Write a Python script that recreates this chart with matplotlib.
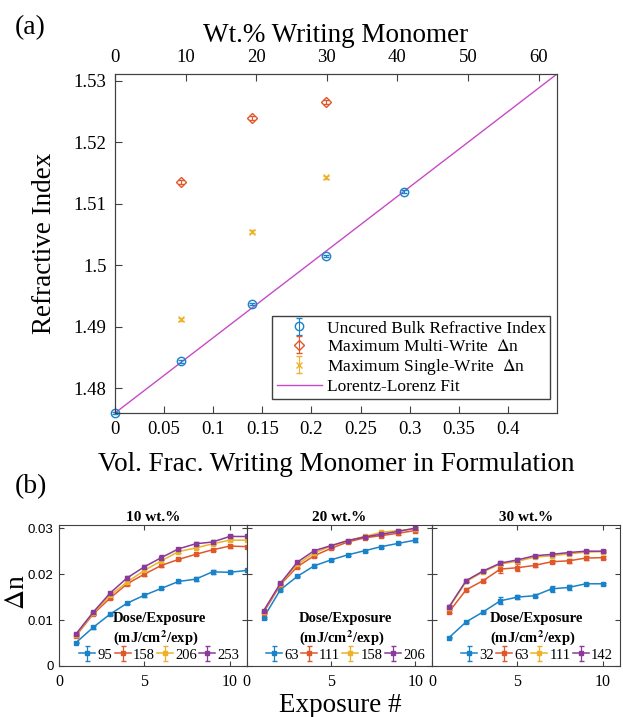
import numpy as np
import matplotlib.pyplot as plt
from matplotlib.ticker import FuncFormatter

plt.rcParams['font.family'] = ['Liberation Serif', 'DejaVu Serif']
plt.rcParams['mathtext.fontset'] = 'stix'

# ---- (a) refractive index vs. writing monomer content ----
vol_frac = [0.0, 0.0671, 0.139, 0.2153, 0.2942]
n_uncured = [1.4760, 1.4844, 1.4937, 1.5015, 1.5120]
n_uncured_err = [0.0002, 0.0002, 0.0002, 0.0002, 0.0002]
vol_frac_written = [0.0671, 0.139, 0.2153]
n_multi = [1.5135, 1.5239, 1.5265]
n_multi_err = [0.0003, 0.0003, 0.0003]
n_single = [1.4912, 1.5055, 1.5143]
n_single_err = [0.0002, 0.0002, 0.0002]
ll_frac = [0.0, 0.45]
ll_n = [1.4760, 1.5311]

# ---- (b) delta n vs exposure number ----
titles = ['10 wt.%', '20 wt.%', '30 wt.%']
doses = [['95', '158', '206', '253'],
         ['63', '111', '158', '206'],
         ['32', '63', '111', '142']]
exp_10 = [1, 2, 3, 4, 5, 6, 7, 8, 9, 10, 11]
exp_20 = [1, 2, 3, 4, 5, 6, 7, 8, 9, 10]
exp_30 = [1, 2, 3, 4, 5, 6, 7, 8, 9, 10]

dn_10 = [[0.0051, 0.0084, 0.0113, 0.0137, 0.0154, 0.0169, 0.0184, 0.0189, 0.0205, 0.0204, 0.0208],
         [0.0066, 0.0113, 0.0148, 0.0179, 0.0200, 0.0219, 0.0232, 0.0243, 0.0253, 0.0261, 0.0260],
         [0.0068, 0.0115, 0.0154, 0.0183, 0.0208, 0.0229, 0.0249, 0.0257, 0.0266, 0.0274, 0.0274],
         [0.0070, 0.0117, 0.0159, 0.0192, 0.0216, 0.0236, 0.0255, 0.0266, 0.0270, 0.0282, 0.0282]]
err_10 = [[0.0002, 0.0003, 0.0003, 0.0003, 0.0003, 0.0002, 0.0003, 0.0004, 0.0004, 0.0002, 0.0004],
          [0.0002, 0.0003, 0.0003, 0.0003, 0.0004, 0.0003, 0.0002, 0.0002, 0.0002, 0.0003, 0.0002],
          [0.0002, 0.0003, 0.0003, 0.0003, 0.0003, 0.0004, 0.0003, 0.0003, 0.0003, 0.0002, 0.0002],
          [0.0002, 0.0003, 0.0003, 0.0003, 0.0003, 0.0005, 0.0003, 0.0003, 0.0004, 0.0003, 0.0003]]

dn_20 = [[0.0105, 0.0166, 0.0195, 0.0218, 0.0231, 0.0242, 0.0251, 0.0260, 0.0267, 0.0274],
         [0.0116, 0.0177, 0.0216, 0.0240, 0.0256, 0.0270, 0.0279, 0.0284, 0.0289, 0.0295],
         [0.0118, 0.0179, 0.0221, 0.0246, 0.0261, 0.0273, 0.0282, 0.0291, 0.0295, 0.0299],
         [0.0120, 0.0180, 0.0226, 0.0251, 0.0262, 0.0273, 0.0281, 0.0287, 0.0293, 0.0300]]
err_20 = [[0.0002, 0.0002, 0.0002, 0.0003, 0.0003, 0.0002, 0.0002, 0.0002, 0.0002, 0.0004],
          [0.0002, 0.0002, 0.0003, 0.0002, 0.0002, 0.0002, 0.0002, 0.0003, 0.0003, 0.0003],
          [0.0002, 0.0002, 0.0002, 0.0002, 0.0002, 0.0002, 0.0002, 0.0002, 0.0002, 0.0002],
          [0.0002, 0.0002, 0.0002, 0.0002, 0.0002, 0.0002, 0.0002, 0.0002, 0.0002, 0.0003]]

dn_30 = [[0.0062, 0.0096, 0.0118, 0.0142, 0.0150, 0.0153, 0.0168, 0.0171, 0.0179, 0.0179],
         [0.0118, 0.0166, 0.0186, 0.0211, 0.0214, 0.0219, 0.0227, 0.0229, 0.0235, 0.0236],
         [0.0127, 0.0184, 0.0205, 0.0222, 0.0228, 0.0237, 0.0240, 0.0244, 0.0248, 0.0249],
         [0.0129, 0.0186, 0.0207, 0.0224, 0.0231, 0.0240, 0.0243, 0.0247, 0.0250, 0.0250]]
err_30 = [[0.0002, 0.0002, 0.0002, 0.0008, 0.0005, 0.0003, 0.0007, 0.0005, 0.0002, 0.0002],
          [0.0003, 0.0003, 0.0003, 0.0008, 0.0007, 0.0004, 0.0003, 0.0004, 0.0004, 0.0004],
          [0.0002, 0.0002, 0.0002, 0.0003, 0.0003, 0.0002, 0.0002, 0.0002, 0.0002, 0.0002],
          [0.0003, 0.0003, 0.0003, 0.0004, 0.0004, 0.0002, 0.0002, 0.0002, 0.0002, 0.0002]]

blue = '#1a82c8'
orange = '#e0582a'
yellow = '#edb22a'
purple = '#8a3a98'
magenta = '#c84ac8'
colors = [blue, orange, yellow, purple]
spine_c = '#404040'

W, H = 623, 717
fig = plt.figure(figsize=(W / 100, H / 100), dpi=100)

g = FuncFormatter(lambda v, p: '%g' % round(v, 4))

# ---------------- panel (a) ----------------
ax = fig.add_axes([115 / W, 1 - 413 / H, (557 - 115) / W, (413 - 74) / H])
h1 = ax.errorbar(vol_frac, n_uncured, yerr=n_uncured_err, fmt='o', mfc='none',
                 mec=blue, ecolor=blue, ms=6, mew=1, capsize=2.5, elinewidth=0.8,
                 clip_on=False, zorder=3, label='Uncured Bulk Refractive Index')
h2 = ax.errorbar(vol_frac_written, n_multi, yerr=n_multi_err, fmt='D', mfc='none',
                 mec=orange, ecolor=orange, ms=5, mew=1, capsize=2.5, elinewidth=0.8,
                 zorder=3, label=r'Maximum Multi-Write  $\Delta$n')
h3 = ax.errorbar(vol_frac_written, n_single, yerr=n_single_err, fmt='x',
                 mec=yellow, ecolor=yellow, ms=5, mew=1, capsize=2.5, elinewidth=0.8,
                 zorder=3, label=r'Maximum Single-Write  $\Delta$n')
h4, = ax.plot(ll_frac, ll_n, color=magenta, lw=1, label='Lorentz-Lorenz Fit', zorder=2)

ax.set_xlim(0, 0.45)
ax.set_ylim(1.476, 1.5311)
ax.set_xticks(np.arange(0, 0.401, 0.05))
ax.set_yticks([1.48, 1.49, 1.50, 1.51, 1.52, 1.53])
ax.xaxis.set_major_formatter(g)
ax.yaxis.set_major_formatter(g)
ax.tick_params(direction='in', labelsize=13.5, color=spine_c, length=5, pad=6)
for s in ax.spines.values():
    s.set_color(spine_c)
ax.set_ylabel('Refractive Index', fontsize=19.5, labelpad=12)
ax.set_xlabel('Vol. Frac. Writing Monomer in Formulation', fontsize=19.5, labelpad=10)

leg = ax.legend(handles=[h1, h2, h3, h4], loc='lower right', bbox_to_anchor=(0.985, 0.04),
                fontsize=12.5, frameon=True, fancybox=False, edgecolor=spine_c,
                framealpha=1, handlelength=2.6, handletextpad=0.3, labelspacing=0.12,
                borderpad=0.25, borderaxespad=0)
leg.get_frame().set_linewidth(1)

axt = ax.twiny()
axt.set_xlim(0, 62.6)
axt.set_xticks([0, 10, 20, 30, 40, 50, 60])
axt.tick_params(direction='in', labelsize=13.5, color=spine_c, length=5, pad=6)
axt.set_xlabel('Wt.% Writing Monomer', fontsize=19.5, labelpad=5)
for s in axt.spines.values():
    s.set_color(spine_c)

fig.text(15 / W, 1 - 28 / H, '(a)', fontsize=20, va='center', ha='left')
fig.text(15 / W, 1 - 487 / H, '(b)', fontsize=20, va='center', ha='left')

# ---------------- panel (b) ----------------
edges = [59, 246.7, 432, 620]
exps = [exp_10, exp_20, exp_30]
dns = [dn_10, dn_20, dn_30]
errs = [err_10, err_20, err_30]
for i in range(3):
    bx = fig.add_axes([edges[i] / W, 1 - 666 / H, (edges[i + 1] - edges[i]) / W, (666 - 525) / H])
    handles = []
    for k in range(4):
        h = bx.errorbar(exps[i], dns[i][k], yerr=errs[i][k], color=colors[k],
                        marker='s', ms=2.2, lw=1.1, elinewidth=0.9, capsize=1.8,
                        label=doses[i][k])
        handles.append(h)
    bx.set_xlim(0, 11)
    bx.set_ylim(0, 0.0307)
    bx.set_xticks([0, 5, 10])
    bx.set_yticks([0, 0.01, 0.02, 0.03])
    bx.yaxis.set_major_formatter(g)
    bx.tick_params(direction='in', top=True, right=True, color=spine_c, length=3.5)
    bx.tick_params(axis='x', labelsize=11.5, pad=6)
    if i == 0:
        bx.tick_params(axis='y', labelsize=9.5, pad=4)
        for t in bx.get_yticklabels():
            t.set_family('Liberation Sans')
    else:
        bx.tick_params(axis='y', labelleft=False)
    for s in bx.spines.values():
        s.set_color(spine_c)
    bx.set_title(titles[i], fontsize=11, fontweight='bold', pad=3)
    lg = bx.legend(handles=handles, loc='lower right', bbox_to_anchor=(1.0, -0.02),
                   ncol=4, fontsize=10.5, frameon=False, handlelength=1.1,
                   handletextpad=0.15, columnspacing=0.15, borderaxespad=0.1,
                   title='Dose/Exposure\n(mJ/cm$^{\\mathbf{2}}$/exp)',
                   title_fontproperties={'weight': 'bold', 'size': 10.5})
    lg._legend_box.sep = 1

fig.text(17 / W, 1 - 592 / H, r'$\Delta$n', fontsize=20, rotation=90, ha='center', va='center')
fig.text(340 / W, 1 - 705 / H, 'Exposure #', fontsize=19.5, ha='center', va='center')

fig.savefig('out.png', dpi=100)
